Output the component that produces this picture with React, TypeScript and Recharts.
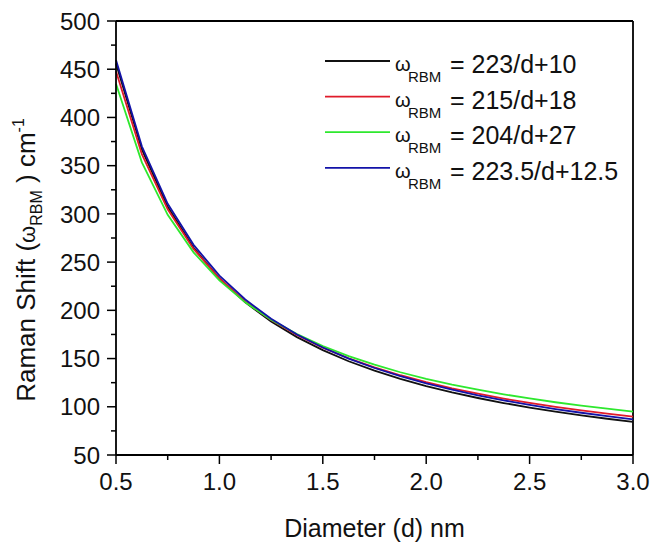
import React from "react";
import { LineChart, Line, XAxis, YAxis, Legend, ReferenceLine } from "recharts";

const diameters = [0.5, 0.625, 0.75, 0.875, 1.0, 1.125, 1.25, 1.375, 1.5, 1.625, 1.75, 1.875, 2.0, 2.125, 2.25, 2.375, 2.5, 2.625, 2.75, 2.875, 3.0];
const seriesA = [456, 366.8, 307.3, 264.9, 233, 208.2, 188.4, 172.2, 158.7, 147.2, 137.4, 128.9, 121.5, 114.9, 109.1, 103.9, 99.2, 95.0, 91.1, 87.6, 84.3];
const seriesB = [448, 362, 304.7, 263.7, 233, 209.1, 190, 174.4, 161.3, 150.3, 140.9, 132.7, 125.5, 119.2, 113.6, 108.5, 104, 99.9, 96.2, 92.8, 89.7];
const seriesC = [435, 353.4, 299, 260.1, 231, 208.3, 190.2, 175.4, 163, 152.5, 143.6, 135.8, 129, 123, 117.7, 112.9, 108.6, 104.7, 101.2, 98, 95];
const seriesD = [459.5, 370.1, 310.5, 267.9, 236, 211.2, 191.3, 175.0, 161.5, 150.0, 140.2, 131.7, 124.3, 117.7, 111.8, 106.6, 101.9, 97.6, 93.8, 90.2, 87];

const seriesNames = ["= 223/d+10", "= 215/d+18", "= 204/d+27", "= 223.5/d+12.5"];
const seriesColors = ["#111111", "#e01b2a", "#2ee82e", "#1212a8"];

const xMajor = [0.5, 1.0, 1.5, 2.0, 2.5, 3.0];
const xMinor = [0.75, 1.25, 1.75, 2.25, 2.75];
const yMajor = [50, 100, 150, 200, 250, 300, 350, 400, 450, 500];
const yMinor = [75, 125, 175, 225, 275, 325, 375, 425, 475];

const xTitle = "Diameter (d) nm";

const rows = diameters.map((d, i) => ({
  d,
  a: seriesA[i],
  b: seriesB[i],
  c: seriesC[i],
  e: seriesD[i],
}));
const keys = ["a", "b", "c", "e"];

const FONT = "'Liberation Sans', Arial, sans-serif";
const xTicks = [...xMajor, ...xMinor].sort((p, q) => p - q);
const yTicks = [...yMajor, ...yMinor].sort((p, q) => p - q);

const YTick = (props: any) => {
  const { x, y, payload } = props;
  const major = yMajor.includes(payload.value);
  return (
    <g>
      <line x1={x} x2={x - (major ? 9 : 5)} y1={y} y2={y} stroke="#000" strokeWidth={1.5} />
      {major && (
        <text x={x - 16} y={y} dy="0.36em" textAnchor="end" fontSize={24} fontFamily={FONT} fill="#111">
          {payload.value}
        </text>
      )}
    </g>
  );
};

const XTick = (props: any) => {
  const { x, y, payload } = props;
  const major = xMajor.includes(payload.value);
  return (
    <g>
      <line x1={x} x2={x} y1={y} y2={y + (major ? 9 : 5)} stroke="#000" strokeWidth={1.5} />
      {major && (
        <text x={x} y={y + 35} textAnchor="middle" fontSize={24} fontFamily={FONT} fill="#111">
          {payload.value.toFixed(1)}
        </text>
      )}
    </g>
  );
};

const XLabel = (props: any) => {
  const vb = props.viewBox;
  return (
    <text x={vb.x + vb.width / 2} y={vb.y + 82} textAnchor="middle" fontSize={25} fontFamily={FONT} fill="#111">
      {xTitle}
    </text>
  );
};

const YLabel = (props: any) => {
  const vb = props.viewBox;
  const cx = vb.x + 35;
  const cy = vb.y + vb.height / 2 + 22;
  return (
    <text transform={`translate(${cx},${cy}) rotate(-90)`} textAnchor="middle" fontSize={26} fontFamily={FONT} fill="#111">
      <tspan>Raman Shift (</tspan>
      <tspan fontSize={22}>ω</tspan>
      <tspan fontSize={16} dy={7}>RBM</tspan>
      <tspan dy={-7}> ) cm</tspan>
      <tspan fontSize={16} dy={-11}>-1</tspan>
    </text>
  );
};

const LegendContent = (props: any) => {
  const payload = [...(props.payload || [])].sort(
    (p: any, q: any) => seriesNames.indexOf(p.value) - seriesNames.indexOf(q.value)
  );
  return (
    <svg width={330} height={170} style={{ display: "block" }}>
      {payload.map((p: any, i: number) => {
        const ry = 21 + i * 35.6;
        return (
          <g key={i}>
            <line x1={15} x2={80} y1={ry} y2={ry} stroke={p.color} strokeWidth={1.8} />
            <text x={85} y={ry + 10} fontSize={20} fontFamily={FONT} fill="#111">ω</text>
            <text x={98} y={ry + 21} fontSize={15} fontFamily={FONT} fill="#111">RBM</text>
            <text x={140} y={ry + 12} fontSize={25} fontFamily={FONT} fill="#111">{p.value}</text>
          </g>
        );
      })}
    </svg>
  );
};

export default function App() {
  return (
    <div style={{ position: "absolute", left: 0, top: 0, width: 652, height: 545 }}>
      <LineChart width={652} height={545} data={rows} margin={{ top: 21, right: 19, bottom: 0, left: 0 }}>
        <XAxis
          dataKey="d"
          type="number"
          domain={[0.5, 3]}
          ticks={xTicks}
          interval={0}
          tickLine={false}
          tickSize={0}
          tickMargin={0}
          tick={<XTick />}
          height={90}
          axisLine={{ stroke: "#000", strokeWidth: 1.8 }}
          label={<XLabel />}
        />
        <YAxis
          type="number"
          domain={[50, 500]}
          ticks={yTicks}
          interval={0}
          tickLine={false}
          tickSize={0}
          tickMargin={0}
          tick={<YTick />}
          width={116}
          axisLine={{ stroke: "#000", strokeWidth: 1.8 }}
          label={<YLabel />}
        />
        <ReferenceLine y={500} stroke="#000" strokeWidth={1.8} />
        <ReferenceLine x={3} stroke="#000" strokeWidth={1.8} />
        {keys.map((k, i) => (
          <Line
            key={k}
            dataKey={k}
            name={seriesNames[i]}
            type="linear"
            stroke={seriesColors[i]}
            strokeWidth={1.8}
            dot={false}
            isAnimationActive={false}
          />
        ))}
        <Legend
          layout="vertical"
          align="center"
          verticalAlign="middle"
          wrapperStyle={{ left: 310, top: 40, width: 330, height: 170 }}
          content={<LegendContent />}
        />
      </LineChart>
    </div>
  );
}
